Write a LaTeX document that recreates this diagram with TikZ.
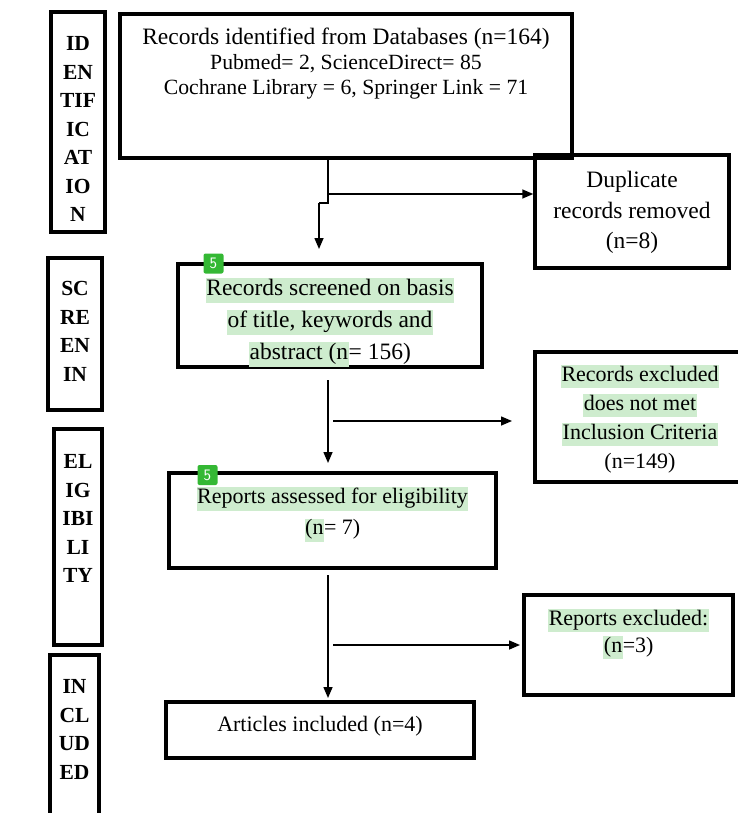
\documentclass[tikz,border=0pt]{standalone}
\usepackage{fontspec}
\setmainfont{Liberation Serif}
\usetikzlibrary{arrows.meta,positioning}
\definecolor{hlgreen}{RGB}{206,236,206}
\definecolor{badgegreen}{RGB}{52,184,52}
\def\hl#1{{\setlength{\fboxsep}{0.5pt}\colorbox{hlgreen}{\rule[-0.3em]{0pt}{0.95em}#1}}}

\begin{document}
\begin{tikzpicture}[x=1pt, y=-1pt,
	box/.style={draw, line width=3.5pt, inner sep=0pt},
	txt/.style={align=center, inner sep=0pt, font=\fontsize{22}{30}\selectfont},
	side/.style={align=center, inner sep=0pt, font=\fontsize{21.5}{28.5}\selectfont\bfseries},
	flow/.style={line width=1.5pt, -{Triangle[length=11pt,width=9pt]}},
	badge/.style={fill=badgegreen, rounded corners=2pt, minimum size=20pt, inner sep=0pt, text=white, font=\fontsize{16}{16}\selectfont\sffamily}]
		%%%%% START %%%%%
		
		\clip (0, 0) rectangle (738, 813);
		
		% phase boxes on the left
		\node[box, minimum width=54pt, minimum height=220pt] (idf) at (78, 122) {};
		\node[box, minimum width=54pt, minimum height=152pt] (scr) at (75, 334) {};
		\node[box, minimum width=48pt, minimum height=216pt] (elg) at (78, 537) {};
		\node[box, minimum width=49pt, minimum height=165pt] (inc) at (74.5, 737.5) {};
		
		\node[side, below=26pt of idf.north] (idftext) {ID\\EN\\TIF\\IC\\AT\\IO\\N};
		\node[side, below=25pt of scr.north] (scrtext) {SC\\RE\\EN\\IN};
		\node[side, below=27pt of elg.north] (elgtext) {EL\\IG\\IBI\\LI\\TY};
		\node[side, below=26pt of inc.north] (inctext) {IN\\CL\\UD\\ED};
		
		% flow boxes
		\node[box, minimum width=452pt, minimum height=144pt] (db) at (346, 86) {};
		\node[box, minimum width=194pt, minimum height=113pt] (dup) at (632, 211.5) {};
		\node[box, minimum width=304pt, minimum height=103pt] (screen) at (330, 315.5) {};
		\node[box, minimum width=210pt, minimum height=130pt] (recex) at (640, 417) {};
		\node[box, minimum width=327pt, minimum height=95pt] (assess) at (332.5, 520.5) {};
		\node[box, minimum width=209pt, minimum height=100pt] (repex) at (628.5, 645) {};
		\node[box, minimum width=308pt, minimum height=56pt] (incl) at (320, 730) {};
		
		\node[txt, font=\fontsize{21.7}{25}\selectfont, below=16pt of db.north] (dbtext) {{\fontsize{23.5}{25}\selectfont Records identified from Databases (n=164)}\\Pubmed= 2, ScienceDirect= 85\\Cochrane Library = 6, Springer Link = 71};
		\node[txt, font=\fontsize{23.5}{30.5}\selectfont, below=18pt of dup.north] (duptext) {Duplicate\\records removed\\(n=8)};
		\node[txt, font=\fontsize{23.5}{32}\selectfont, below=16pt of screen.north] (screentext) {\hl{Records screened on basis}\\\hl{of title, keywords and}\\\hl{abstract (n}= 156)};
		\node[txt, font=\fontsize{22}{29}\selectfont, below=15pt of recex.north] (recextext) {\hl{Records excluded}\\\hl{does not met}\\\hl{Inclusion Criteria}\\(n=149)};
		\node[txt, font=\fontsize{22}{31}\selectfont, below=16pt of assess.north] (assesstext) {\hl{Reports assessed for eligibility}\\\hl{(n}= 7)};
		\node[txt, font=\fontsize{22}{27}\selectfont, below=16pt of repex.north] (repextext) {\hl{Reports excluded:}\\\hl{(n}=3)};
		\node[txt, below=16pt of incl.north] (incltext) {Articles included (n=4)};
		
		\node[badge] (mark1) at (213.5, 263.5) {5};
		\node[badge] (mark2) at (207.5, 475) {5};
		
		% connectors
		\coordinate (bend1) at (328, 203);
		\coordinate (bend2) at (319, 203);
		\coordinate (tip1) at (319, 249);
		\coordinate (fork1) at (328, 194);
		\draw[line width=1.5pt] (db.south -| bend1) -- (bend1) -- (bend2);
		\draw[flow] (bend2) -- (tip1);
		\draw[flow] (fork1) -- (fork1 -| dup.west);
		
		\coordinate (top2) at (328, 380);
		\coordinate (tip2) at (328, 463);
		\coordinate (fork2) at (333, 421);
		\coordinate (tip3) at (512, 421);
		\draw[flow] (top2) -- (tip2);
		\draw[flow] (fork2) -- (tip3);
		
		\coordinate (top3) at (328, 575);
		\coordinate (tip4) at (328, 698);
		\coordinate (fork3) at (333, 645);
		\coordinate (tip5) at (520, 645);
		\draw[flow] (top3) -- (tip4);
		\draw[flow] (fork3) -- (tip5);
		
		%%%%% END %%%%%
\end{tikzpicture}
\end{document}
